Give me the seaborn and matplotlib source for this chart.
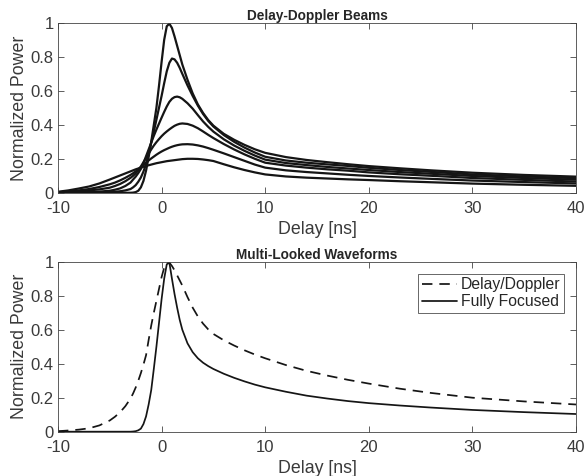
import matplotlib
matplotlib.use("Agg")
import matplotlib.pyplot as plt
import seaborn as sns
import pandas as pd

# delay axis samples [ns]
delay = [-10, -9, -8, -7, -6, -5, -4.5, -4, -3.5, -3, -2.75, -2.5, -2.25, -2, -1.75, -1.5, -1.25, -1,
         -0.75, -0.5, -0.25, 0, 0.25, 0.5, 0.75, 1, 1.25, 1.5, 1.75, 2, 2.5, 3, 3.5, 4, 4.5, 5,
         6, 7, 8, 9, 10, 12, 14, 16, 18, 20, 23, 26, 30, 35, 40]

# delay-Doppler beams (normalized power), tallest peak first
beam1 = [0, 0, 0, 0, 0, 0, 0, 0, 0, 0, 0.001, 0.004, 0.012, 0.032, 0.07, 0.13, 0.21, 0.3,
         0.4, 0.5, 0.63, 0.77, 0.9, 0.98, 0.995, 0.97, 0.92, 0.865, 0.81, 0.755, 0.665, 0.585, 0.52, 0.47, 0.428, 0.395,
         0.347, 0.312, 0.282, 0.256, 0.235, 0.21, 0.193, 0.18, 0.168, 0.157, 0.144, 0.132, 0.118, 0.105, 0.095]
beam2 = [0, 0, 0.001, 0.001, 0.002, 0.004, 0.006, 0.009, 0.014, 0.022, 0.032, 0.045, 0.065, 0.09, 0.125, 0.17, 0.23, 0.295,
         0.36, 0.43, 0.5, 0.57, 0.645, 0.715, 0.765, 0.79, 0.785, 0.765, 0.735, 0.7, 0.632, 0.57, 0.513, 0.464, 0.423, 0.39,
         0.34, 0.3, 0.266, 0.237, 0.212, 0.19, 0.177, 0.167, 0.158, 0.147, 0.134, 0.123, 0.108, 0.096, 0.086]
beam3 = [0, 0.001, 0.002, 0.004, 0.007, 0.012, 0.018, 0.026, 0.04, 0.06, 0.078, 0.095, 0.116, 0.14, 0.175, 0.215, 0.255, 0.295,
         0.335, 0.372, 0.407, 0.442, 0.476, 0.508, 0.535, 0.553, 0.563, 0.566, 0.562, 0.553, 0.527, 0.495, 0.457, 0.42, 0.388, 0.36,
         0.315, 0.278, 0.247, 0.219, 0.195, 0.175, 0.163, 0.152, 0.143, 0.134, 0.122, 0.112, 0.099, 0.087, 0.077]
beam4 = [0.001, 0.004, 0.008, 0.014, 0.02, 0.03, 0.04, 0.052, 0.068, 0.088, 0.1, 0.114, 0.133, 0.155, 0.18, 0.205, 0.23, 0.255,
         0.278, 0.298, 0.316, 0.333, 0.348, 0.361, 0.373, 0.384, 0.394, 0.401, 0.406, 0.408, 0.405, 0.395, 0.38, 0.361, 0.341, 0.322,
         0.287, 0.255, 0.226, 0.2, 0.177, 0.16, 0.148, 0.138, 0.13, 0.12, 0.109, 0.1, 0.087, 0.076, 0.066]
beam5 = [0.003, 0.008, 0.014, 0.022, 0.034, 0.05, 0.06, 0.073, 0.088, 0.105, 0.115, 0.126, 0.138, 0.151, 0.164, 0.177, 0.19, 0.202,
         0.213, 0.224, 0.234, 0.243, 0.251, 0.258, 0.265, 0.271, 0.276, 0.28, 0.283, 0.285, 0.286, 0.284, 0.279, 0.272, 0.263, 0.253,
         0.232, 0.21, 0.188, 0.166, 0.148, 0.132, 0.122, 0.114, 0.106, 0.099, 0.09, 0.082, 0.072, 0.063, 0.055]
beam6 = [0.006, 0.014, 0.025, 0.037, 0.055, 0.078, 0.09, 0.102, 0.114, 0.126, 0.132, 0.138, 0.143, 0.148, 0.153, 0.158, 0.162, 0.166,
         0.17, 0.174, 0.177, 0.18, 0.183, 0.186, 0.188, 0.19, 0.192, 0.194, 0.196, 0.198, 0.2, 0.2, 0.199, 0.196, 0.192, 0.187,
         0.168, 0.15, 0.134, 0.12, 0.108, 0.096, 0.089, 0.084, 0.079, 0.075, 0.068, 0.062, 0.054, 0.047, 0.041]
beams = [beam1, beam2, beam3, beam4, beam5, beam6]

# multi-looked waveforms
delay_doppler = [0.003, 0.007, 0.012, 0.02, 0.037, 0.066, 0.088, 0.115, 0.15, 0.195, 0.225, 0.26, 0.3, 0.345, 0.395, 0.45, 0.54, 0.625,
                 0.7, 0.77, 0.84, 0.91, 0.965, 0.995, 0.995, 0.975, 0.95, 0.92, 0.89, 0.86, 0.792, 0.73, 0.678, 0.636, 0.602, 0.575,
                 0.538, 0.507, 0.479, 0.454, 0.432, 0.392, 0.358, 0.33, 0.305, 0.283, 0.253, 0.228, 0.2, 0.178, 0.16]
fully_focused = [0, 0, 0, 0, 0, 0, 0, 0, 0, 0, 0.001, 0.003, 0.008, 0.018, 0.045, 0.09, 0.16, 0.245,
                 0.37, 0.5, 0.64, 0.78, 0.9, 0.985, 0.995, 0.9, 0.81, 0.73, 0.658, 0.6, 0.52, 0.468, 0.432, 0.406, 0.386, 0.369,
                 0.341, 0.317, 0.296, 0.277, 0.261, 0.235, 0.212, 0.195, 0.18, 0.168, 0.154, 0.142, 0.128, 0.115, 0.104]
legend_labels = ["Delay/Doppler", "Fully Focused"]

xticks = [-10, 0, 10, 20, 30, 40]
yticks = [0, 0.2, 0.4, 0.6, 0.8, 1]
ytick_labels = ["0", "0.2", "0.4", "0.6", "0.8", "1"]

sns.set_style("ticks")
plt.rcParams["font.family"] = ["Liberation Sans", "DejaVu Sans"]
plt.rcParams.update({
    "xtick.direction": "in", "ytick.direction": "in",
    "xtick.top": True, "ytick.right": True,
    "xtick.major.size": 4, "ytick.major.size": 4,
    "xtick.major.width": 0.6, "ytick.major.width": 0.6,
    "axes.linewidth": 0.6,
    "axes.edgecolor": "#444444",
    "xtick.color": "#444444", "ytick.color": "#444444",
    "xtick.labelcolor": "#3a3a3a", "ytick.labelcolor": "#3a3a3a",
})

fig = plt.figure(figsize=(5.84, 4.76), dpi=100)
ax1 = fig.add_axes([0.0993, 0.595, 0.887, 0.357])
ax2 = fig.add_axes([0.0993, 0.0931, 0.887, 0.357])

for b in beams:
    sns.lineplot(x=delay, y=b, ax=ax1, color="#151515", lw=1.6, sort=False)

df = pd.DataFrame({"delay": delay * 2,
                   "power": delay_doppler + fully_focused,
                   "kind": [legend_labels[0]] * len(delay) + [legend_labels[1]] * len(delay)})
sns.lineplot(data=df, x="delay", y="power", hue="kind", style="kind",
             palette=["#151515", "#151515"], dashes=[(6, 4), ""], lw=1.25, ax=ax2, sort=False)

titles = ["Delay-Doppler Beams", "Multi-Looked Waveforms"]
for ax, t in zip([ax1, ax2], titles):
    ax.set_xlim(-10, 40)
    ax.set_ylim(0, 1)
    ax.set_xticks(xticks)
    ax.set_xticklabels([str(v) for v in xticks])
    ax.set_yticks(yticks)
    ax.set_yticklabels(ytick_labels)
    ax.tick_params(axis="both", labelsize=12)
    ax.tick_params(axis="x", pad=6)
    ax.tick_params(axis="y", pad=3)
    ax.set_xlabel("Delay [ns]", fontsize=12.8, color="#3a3a3a", labelpad=3.5)
    ax.set_ylabel("Normalized Power", fontsize=12.8, color="#3a3a3a", labelpad=2)
    ax.set_title(t, fontsize=9.8, fontweight="bold", pad=2)
    for s in ax.spines.values():
        s.set_visible(True)

leg = ax2.legend(loc="upper right", fontsize=11.3, frameon=True, fancybox=False,
                 edgecolor="#222222", handlelength=2.2, handletextpad=0.25,
                 borderpad=0.25, labelspacing=0.1, borderaxespad=0.75)
leg.get_frame().set_linewidth(0.6)

fig.savefig("out.png", dpi=100)
